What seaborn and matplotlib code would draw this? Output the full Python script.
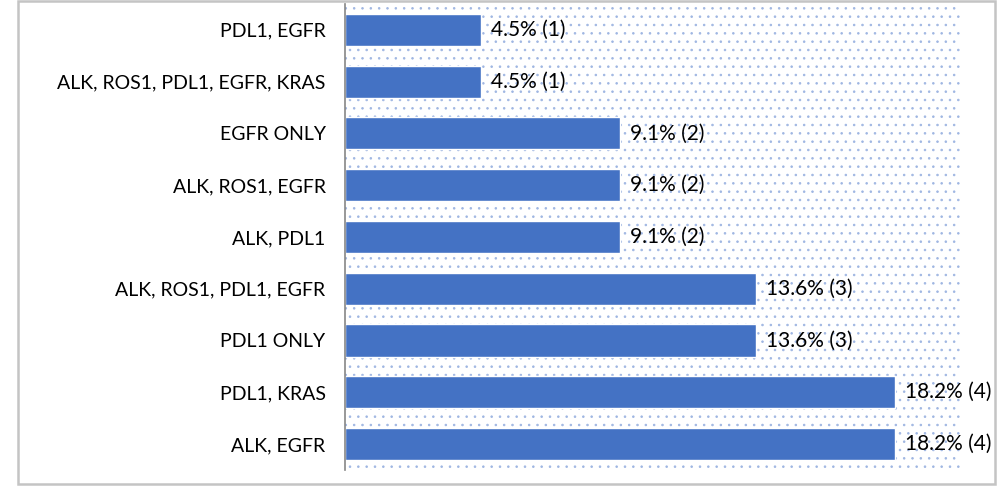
import seaborn as sns
import matplotlib.pyplot as plt
import pandas as pd
from matplotlib.patches import Rectangle

# biomarker combinations, top to bottom as in the chart
combos = ['PDL1, EGFR', 'ALK, ROS1, PDL1, EGFR, KRAS', 'EGFR ONLY', 'ALK, ROS1, EGFR',
          'ALK, PDL1', 'ALK, ROS1, PDL1, EGFR', 'PDL1 ONLY', 'PDL1, KRAS', 'ALK, EGFR']
percent = [4.5, 4.5, 9.1, 9.1, 9.1, 13.6, 13.6, 18.2, 18.2]
counts = [1, 1, 2, 2, 2, 3, 3, 4, 4]

df = pd.DataFrame({'combo': combos, 'percent': percent, 'count': counts})

sns.set_style('white')
plt.rcParams['font.family'] = ['Lato', 'DejaVu Sans']
plt.rcParams['hatch.linewidth'] = 0.6

fig = plt.figure(figsize=(10, 4.9), dpi=100)
ax = fig.add_axes([0.345, 0.041, 0.615, 0.951])

# dotted plot-area background
ax.patch.set_facecolor('white')
ax.patch.set_edgecolor('#9FB6E2')
ax.patch.set_hatch('..')
ax.patch.set_linewidth(0)

sns.barplot(data=df, x='percent', y='combo', order=combos, color='#4472C4',
            width=0.62, saturation=1, ax=ax)

labels = [f'{p}% ({c})' for p, c in zip(percent, counts)]
ax.bar_label(ax.containers[0], labels=labels, padding=7, fontsize=15, color='#000000')

ax.set_xlim(0, 20.35)
ax.set_xlabel('')
ax.set_ylabel('')
ax.set_xticks([])
ax.tick_params(axis='y', length=0, pad=14, labelsize=14, labelcolor='#000000')
for s in ['top', 'right', 'bottom']:
    ax.spines[s].set_visible(False)
ax.spines['left'].set_color('#868686')
ax.spines['left'].set_linewidth(1.2)

# outer chart border
fig.add_artist(Rectangle((0.018, 0.012), 0.977, 0.985, transform=fig.transFigure,
                         fill=False, edgecolor='#C4C4C4', linewidth=1.8))

fig.savefig('out.png', dpi=100)
